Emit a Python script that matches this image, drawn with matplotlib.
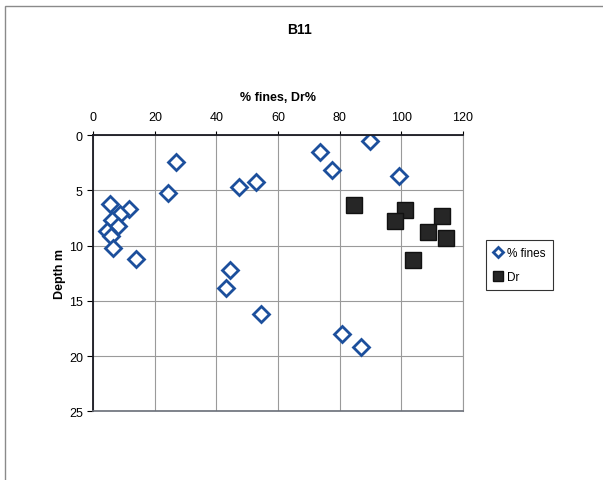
import matplotlib.pyplot as plt
from matplotlib.patches import Rectangle

plt.rcParams['font.family'] = ['Liberation Sans', 'DejaVu Sans']

# % fines against depth
fines_pct = [90, 73.5, 27, 77.7, 99.3, 53, 47.5, 24.2, 5.4, 11.6, 8.7, 6.2,
             7.9, 4.3, 5.6, 6.5, 13.8, 44.4, 43.1, 54.4, 80.7, 87]
fines_depth = [0.5, 1.5, 2.4, 3.2, 3.7, 4.2, 4.7, 5.2, 6.2, 6.7, 7.15, 7.7,
               8.27, 8.66, 9.17, 10.2, 11.2, 12.2, 13.8, 16.2, 18.0, 19.2]

# relative density Dr against depth
dr_pct = [84.7, 101.3, 98, 113.4, 108.8, 114.5, 104]
dr_depth = [6.3, 6.8, 7.8, 7.3, 8.8, 9.3, 11.3]

fig = plt.figure(figsize=(6.03, 4.81), dpi=100)
fig.patches.append(Rectangle((0.008, -0.01), 1.0, 0.996, transform=fig.transFigure,
                             fill=False, edgecolor='#8a8a8a', linewidth=1.0))

ax = fig.add_axes([0.1547, 0.1428, 0.6125, 0.5742])
ax.plot(fines_pct, fines_depth, linestyle='none', marker='D', markersize=8,
        markerfacecolor='white', markeredgecolor='#1c4f9c', markeredgewidth=2,
        label='% fines')
ax.plot(dr_pct, dr_depth, linestyle='none', marker='s', markersize=12,
        markerfacecolor='#262626', markeredgecolor='#111111', markeredgewidth=1,
        label='Dr')

ax.set_xlim(0, 120)
ax.set_ylim(25, 0)
ax.set_xticks(range(0, 121, 20))
ax.set_yticks(range(0, 26, 5))
ax.xaxis.tick_top()
ax.xaxis.set_label_position('top')
ax.tick_params(axis='x', length=3, direction='out', pad=6, labelsize=9)
ax.tick_params(axis='y', length=4, direction='out', labelsize=9)
ax.grid(True, color='#9a9a9a', linewidth=0.8)
ax.set_axisbelow(True)

ax.spines['right'].set_color('#9a9a9a')
ax.spines['bottom'].set_color('#6a6e78')
ax.spines['bottom'].set_linewidth(1.2)
for side in ('left', 'top'):
    ax.spines[side].set_color('#1a1a22')
    ax.spines[side].set_linewidth(1.3)

ax.set_xlabel('% fines, Dr%', fontsize=9, fontweight='bold', labelpad=8)
ax.set_ylabel('Depth m', fontsize=9, fontweight='bold', labelpad=2)

fig.text(0.497, 0.938, 'B11', ha='center', va='center', fontsize=10, fontweight='bold')

leg = fig.legend(loc='upper left', bbox_to_anchor=(0.806, 0.499), fontsize=8.5,
                 frameon=True, fancybox=False, edgecolor='black', handlelength=0.8,
                 handletextpad=0.4, borderpad=0.6, borderaxespad=0,
                 markerscale=0.6, labelspacing=1.0)
leg.get_frame().set_linewidth(0.8)

fig.savefig('out.png', dpi=100)
